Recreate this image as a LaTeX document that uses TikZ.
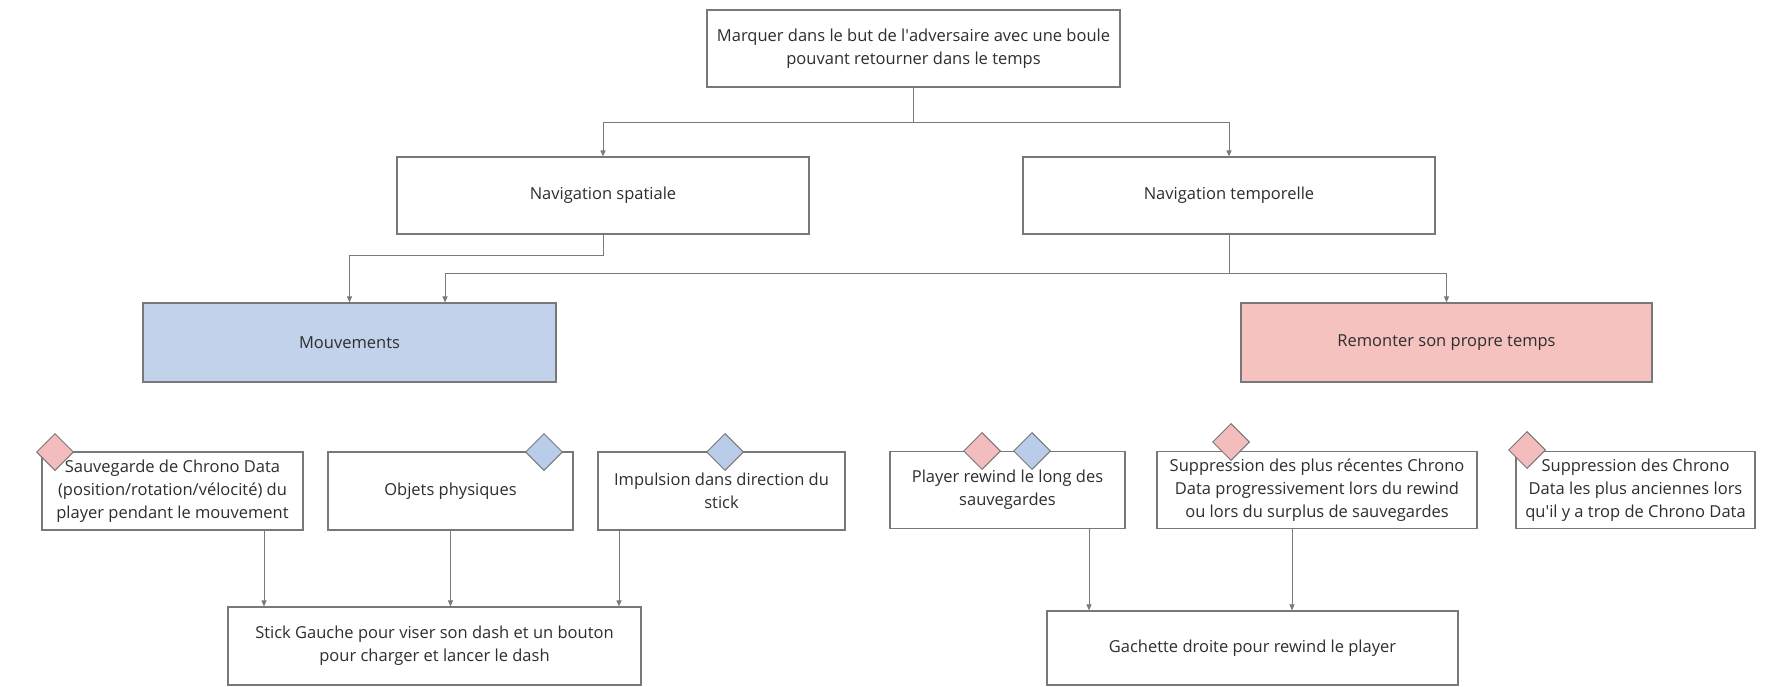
\documentclass[tikz,border=0pt]{standalone}
\usepackage{fontspec}
\setmainfont{Open Sans}
\usetikzlibrary{arrows.meta,shapes.geometric,calc}
\definecolor{edge}{HTML}{787878}
\definecolor{wire}{HTML}{7A7A7A}
\definecolor{txt}{HTML}{2E2E2E}
\definecolor{bluefill}{HTML}{C1D2EA}
\definecolor{pinkfill}{HTML}{F5C2C0}
\definecolor{bluemark}{HTML}{B9CCEA}
\definecolor{pinkmark}{HTML}{F2BDBC}
\newcommand{\apos}{\textquotesingle}
\tikzset{
  box/.style={draw=edge, line width=1.2pt, fill=white, align=center, inner sep=0pt,
    text=txt, font=\fontsize{16.5}{23}\selectfont},
  conn/.style={draw=wire, line width=1pt, -{Triangle[length=6pt,width=5pt]}},
  wireline/.style={draw=wire, line width=1pt},
  tag/.style={shape=diamond, draw=edge, line width=1pt, inner sep=0pt,
    minimum width=37pt, minimum height=37pt},
  pinktag/.style={tag, fill=pinkmark},
  bluetag/.style={tag, fill=bluemark}
}
\begin{document}
\begin{tikzpicture}[x=1pt,y=-1pt]
\useasboundingbox (0,0) rectangle (1790,686);
\fill[white] (0,0) rectangle (1790,686);

% goal
\node[box, minimum width=413, minimum height=77] (goal) at (913.5,48.5)
  {Marquer dans le but de l\apos adversaire avec une boule\\pouvant retourner dans le temps};

% two navigation branches
\node[box, minimum width=412, minimum height=77] (navS) at (603,195.5) {Navigation spatiale};
\node[box, minimum width=412, minimum height=77] (navT) at (1229,195.5) {Navigation temporelle};

% mechanics
\node[box, fill=bluefill, minimum width=413, minimum height=79] (mouv) at (349.5,342.5) {Mouvements};
\node[box, fill=pinkfill, minimum width=411, minimum height=79] (remont) at (1446.5,342.5) {Remonter son propre temps};

% features
\node[box, minimum width=261, minimum height=78] (sauv) at (172.5,491)
  {Sauvegarde de Chrono Data\\(position/rotation/vélocité) du\\player pendant le mouvement};
\node[box, minimum width=245, minimum height=78] (objets) at (450.5,491) {Objets physiques};
\node[box, minimum width=247, minimum height=78] (impul) at (721.5,491)
  {Impulsion dans direction du\\stick};
\node[box, minimum width=235, minimum height=77] (player) at (1007.5,490)
  {Player rewind le long des\\sauvegardes};
\node[box, minimum width=320, minimum height=77] (supR) at (1317,490)
  {Suppression des plus récentes Chrono\\Data progressivement lors du rewind\\ou lors du surplus de sauvegardes};
\node[box, minimum width=239, minimum height=77] (supA) at (1635.5,490)
  {Suppression des Chrono\\Data les plus anciennes lors\\qu\apos il y a trop de Chrono Data};

% controls
\node[box, minimum width=413, minimum height=78] (stick) at (434.5,646)
  {Stick Gauche pour viser son dash et un bouton\\pour charger et lancer le dash};
\node[box, minimum width=411, minimum height=74] (gach) at (1252.5,648)
  {Gachette droite pour rewind le player};

% tree connectors
\coordinate (j1) at (913.5,122);
\draw[wireline] (goal.south) -- (j1);
\draw[conn] (j1) -| (navS.north);
\draw[conn] (j1) -| (navT.north);

\draw[conn] (navS.south) -- ++(0,21) -| (mouv.north);

\coordinate (j2) at (1229,273);
\draw[wireline] (navT.south) -- (j2);
\draw[conn] (j2) -| (remont.north);
\draw[conn] (j2) -| ([xshift=95.5pt]mouv.north);

% feature to control connectors
\draw[conn] ([xshift=91.5pt]sauv.south) -- ([xshift=91.5pt]sauv.south |- stick.north);
\draw[conn] (objets.south) -- (objets.south |- stick.north);
\draw[conn] ([xshift=-102.5pt]impul.south) -- ([xshift=-102.5pt]impul.south |- stick.north);
\draw[conn] ([xshift=81.5pt]player.south) -- ([xshift=81.5pt]player.south |- gach.north);
\draw[conn] ([xshift=-25pt]supR.south) -- ([xshift=-25pt]supR.south |- gach.north);

% category tags
\node[pinktag] (tSauv) at (55,452) {};
\node[bluetag] (tObj) at (544,452) {};
\node[bluetag] (tImp) at (725,452) {};
\node[pinktag] (tPlayA) at (982,451) {};
\node[bluetag] (tPlayB) at (1032,451) {};
\node[pinktag] (tSupR) at (1231,442) {};
\node[pinktag] (tSupA) at (1527,450) {};
\end{tikzpicture}
\end{document}
